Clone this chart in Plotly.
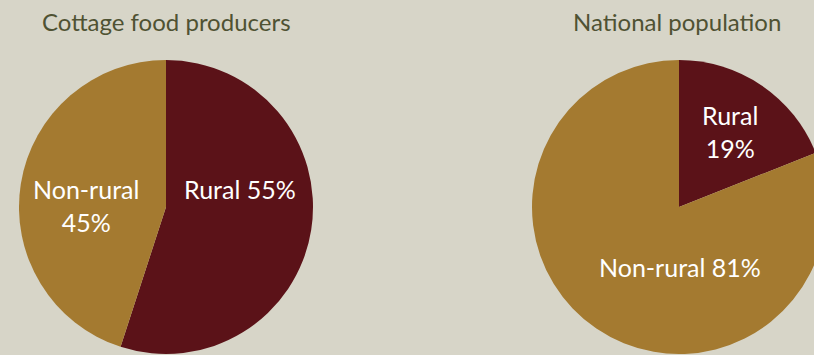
import plotly.graph_objects as go

# Data
labels = ["Rural", "Non-rural"]
cottage_values = [55, 45]
national_values = [19, 81]
titles = ["Cottage food producers", "National population"]
# label layout: separator between label and value for each slice
cottage_seps = [" ", "<br>"]
national_seps = ["<br>", " "]

BG = "#D7D5C8"
RED = "#5B1218"
GOLD = "#A47A30"
TITLE_C = "#4F5233"
FONT = "Lato, 'Noto Sans', sans-serif"

W, H = 840, 355

def dom(cx, cy, r):
    return dict(x=[(cx - r) / W, (cx + r) / W], y=[(H - cy - r) / H, (H - cy + r) / H])

r = 147
fig = go.Figure()
for vals, cx in [(cottage_values, 166), (national_values, 679)]:
    fig.add_trace(go.Pie(
        labels=labels, values=vals, sort=False, direction="clockwise", rotation=0,
        marker=dict(colors=[RED, GOLD], line=dict(width=0)),
        textinfo="none", domain=dom(cx, 207, r), showlegend=False,
        hoverinfo="label+percent",
    ))

# slice label positions (pixels in page)
cottage_pos = [(240, 189), (86, 205)]
national_pos = [(730, 132), (680, 267)]

for vals, seps, pos in [(cottage_values, cottage_seps, cottage_pos),
                        (national_values, national_seps, national_pos)]:
    for lab, v, s, (px, py) in zip(labels, vals, seps, pos):
        fig.add_annotation(text=f"{lab}{s}{v}%", x=px / W, y=(H - py) / H,
                           xref="paper", yref="paper", showarrow=False,
                           xanchor="center", yanchor="middle", align="center",
                           font=dict(size=25, color="white", family=FONT))

for t, cx in zip(titles, [166, 677]):
    fig.add_annotation(text=t, x=cx / W, y=(H - 21) / H, xref="paper", yref="paper",
                       showarrow=False, xanchor="center", yanchor="middle",
                       font=dict(size=24, color=TITLE_C, family=FONT))

fig.update_layout(
    width=W, height=H, margin=dict(l=0, r=0, t=0, b=0),
    paper_bgcolor=BG, plot_bgcolor=BG, font=dict(family=FONT),
)

fig.write_html("out.html", post_script="document.body.style.overflow='hidden';document.documentElement.style.overflow='hidden';")
